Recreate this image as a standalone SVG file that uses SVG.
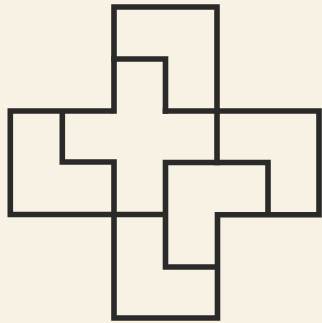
<svg xmlns="http://www.w3.org/2000/svg" width="322" height="323" viewBox="0 0 322 323">
  <style>
    .wall { fill: none; stroke: #2a2a28; stroke-width: 5.6; stroke-linecap: square; stroke-linejoin: miter; }
  </style>
  <rect x="0" y="0" width="322" height="323" fill="#f8f2e4"/>
  <g id="walls">
    <path class="wall" d="M114,111 L114,7 L217,7 L217,162.5"/>
    <path class="wall" d="M114,59 L165.5,59 L165.5,111"/>
    <path class="wall" d="M110,111 L10.3,111 L10.3,214.5 L163,214.5"/>
    <path class="wall" d="M62.3,114 L62.3,162 L114,162 L114,318 L217.5,318 L217.5,214.7 L319,214.7 L319,111 L165.5,111"/>
    <path class="wall" d="M214.5,267 L165.5,267 L165.5,162.5 L268,162.5 L268,212"/>
  </g>
</svg>
